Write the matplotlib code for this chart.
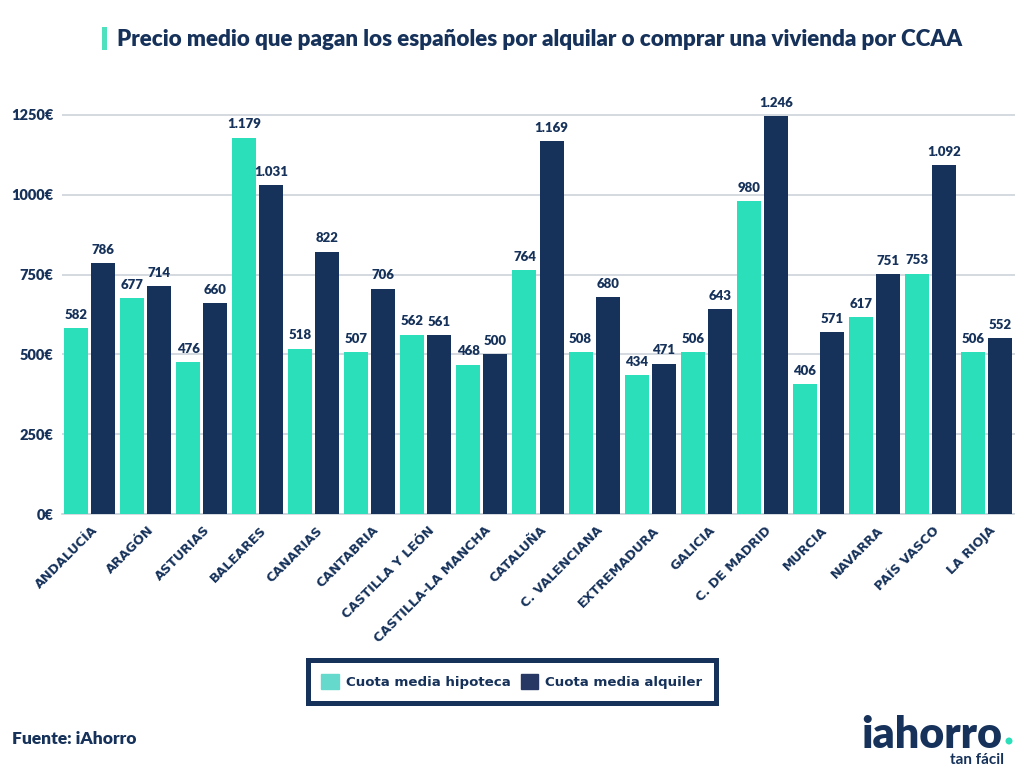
import numpy as np
import matplotlib.pyplot as plt
from matplotlib.patches import Rectangle, Ellipse

# Data
regions = ['ANDALUCÍA', 'ARAGÓN', 'ASTURIAS', 'BALEARES', 'CANARIAS', 'CANTABRIA',
           'CASTILLA Y LEÓN', 'CASTILLA-LA MANCHA', 'CATALUÑA', 'C. VALENCIANA',
           'EXTREMADURA', 'GALICIA', 'C. DE MADRID', 'MURCIA', 'NAVARRA',
           'PAÍS VASCO', 'LA RIOJA']
hipoteca = [582, 677, 476, 1179, 518, 507, 562, 468, 764, 508, 434, 506, 980, 406, 617, 753, 506]
alquiler = [786, 714, 660, 1031, 822, 706, 561, 500, 1169, 680, 471, 643, 1246, 571, 751, 1092, 552]
y_ticks = [0, 250, 500, 750, 1000, 1250]

NAVY = '#16325A'
TEAL = '#2ADFBA'
W, H = 1024, 768

plt.rcParams['font.family'] = ['Lato', 'DejaVu Sans']

fig = plt.figure(figsize=(W / 100, H / 100), dpi=100)

# Axes placed in pixels so bars land where they do in the original
left, right, top, bottom = 61.5, 1014.5, 100, 514
ax = fig.add_axes([left / W, 1 - bottom / H, (right - left) / W, (bottom - top) / H])


def fmt(v):
    # Spanish thousands separator
    return f'{v:,}'.replace(',', '.')


x = np.arange(len(regions))
bar_w = 24 / 56
gap = 1.5 / 56
ax.bar(x - bar_w / 2 - gap, hipoteca, width=bar_w, color=TEAL, zorder=3)
ax.bar(x + bar_w / 2 + gap, alquiler, width=bar_w, color=NAVY, zorder=3)

# Value labels above each bar
for i in x:
    ax.annotate(fmt(hipoteca[i]), (i - bar_w / 2 - gap, hipoteca[i]), xytext=(0, 9.5),
                textcoords='offset points', ha='center', va='center',
                fontsize=9.5, fontweight='heavy', color=NAVY, zorder=4)
    ax.annotate(fmt(alquiler[i]), (i + bar_w / 2 + gap, alquiler[i]), xytext=(0, 9.5),
                textcoords='offset points', ha='center', va='center',
                fontsize=9.5, fontweight='heavy', color=NAVY, zorder=4)

ax.set_xlim(-0.5, len(regions) - 0.5)
ax.set_ylim(0, 1250 * (bottom - top) / (bottom - 115))
ax.set_yticks(y_ticks)
ax.set_yticklabels([f'{t}€' for t in y_ticks], fontsize=10.5, fontweight='heavy', color=NAVY)
ax.set_xticks(x + 0.04)
ax.set_xticklabels(regions, rotation=45, ha='right', rotation_mode='anchor',
                   fontsize=9.2, fontweight='bold', color=NAVY, family='DejaVu Sans')
ax.tick_params(axis='both', length=0)
ax.tick_params(axis='y', pad=6)
ax.tick_params(axis='x', pad=7)
ax.grid(axis='y', color='#CDD3DC', lw=1.2, zorder=0)
ax.set_axisbelow(True)
for s in ['top', 'right', 'left']:
    ax.spines[s].set_visible(False)
ax.spines['bottom'].set_color('#CDD3DC')
ax.spines['bottom'].set_linewidth(1.2)

# Title and the small teal mark next to it
fig.add_artist(Rectangle((102 / W, 1 - 50 / H), 5 / W, 23 / H, transform=fig.transFigure,
                         color='#4FE0BE', lw=0))
fig.text(117 / W, 1 - 39.5 / H, 'Precio medio que pagan los españoles por alquilar o comprar una vivienda por CCAA',
         fontsize=16.1, fontweight='heavy', color=NAVY, ha='left', va='center')

# Legend
handles = [Rectangle((0, 0), 1, 1, color='#65D9CB'), Rectangle((0, 0), 1, 1, color='#263863')]
leg = fig.legend(handles, ['Cuota media hipoteca', 'Cuota media alquiler'], ncol=2,
                 loc='center', bbox_to_anchor=(512 / W, 1 - 681.5 / H),
                 frameon=True, fancybox=False, framealpha=1, edgecolor=NAVY,
                 handlelength=1.3, handleheight=1.45, handletextpad=0.55, columnspacing=0.75,
                 borderpad=1.0, borderaxespad=0,
                 prop={'family': 'DejaVu Sans', 'weight': 'bold', 'size': 9.6},
                 labelcolor=NAVY)
leg.get_frame().set_linewidth(3.6)

# Source and logo
fig.text(12 / W, 1 - 739.5 / H, 'Fuente: iAhorro', fontsize=12.5, fontweight='heavy', color=NAVY,
         ha='left', va='center')
fig.text(861 / W, 1 - 735 / H, 'iahorro', fontsize=31, fontweight='heavy', color=NAVY,
         ha='left', va='center')
fig.add_artist(Ellipse((1009 / W, 1 - 741 / H), 7 / W, 7 / H, transform=fig.transFigure,
                       color=TEAL, lw=0))
fig.text(1004 / W, 1 - 760 / H, 'tan fácil', fontsize=11, fontweight='bold', color=NAVY,
         ha='right', va='center')

plt.savefig('out.png', dpi=100)
